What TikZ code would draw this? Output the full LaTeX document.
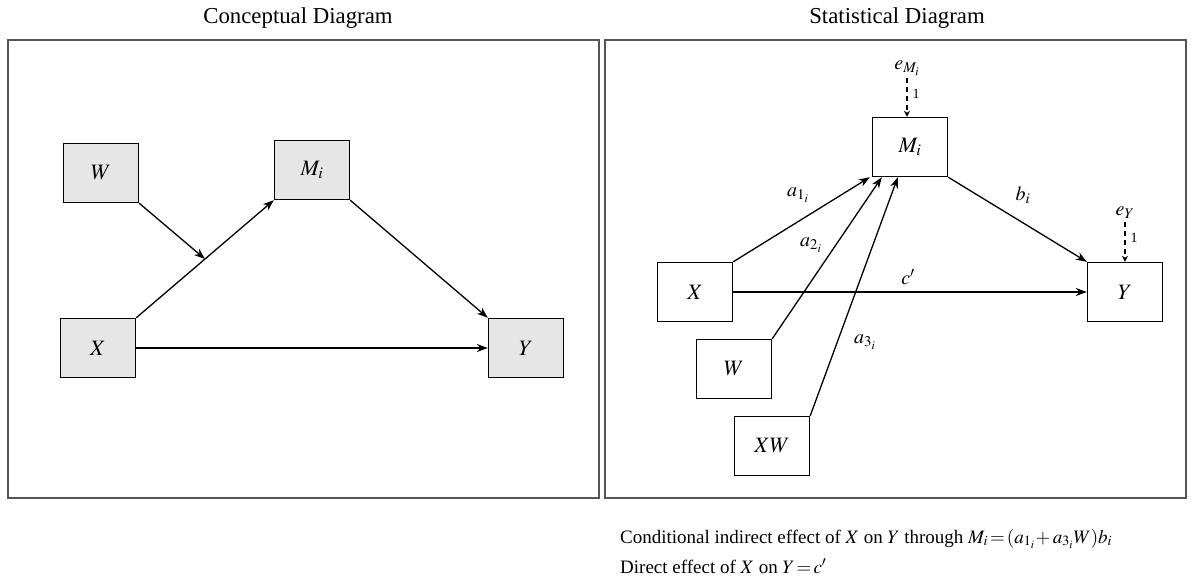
\documentclass[tikz,border=0pt]{standalone}
\usepackage{mathptmx}
\usepackage[no-math]{fontspec}
\setmainfont{Liberation Serif}
\usetikzlibrary{arrows.meta,calc}
\definecolor{boxgray}{HTML}{E6E6E6}
\definecolor{framegray}{HTML}{555555}
\begin{document}
\begin{tikzpicture}[x=1pt,y=-1pt,
  box/.style={draw=black,line width=1.4pt,minimum width=75pt,minimum height=59pt,inner sep=0pt,fill=white,font=\fontsize{22}{24}\selectfont},
  cbox/.style={box,fill=boxgray},
  frame/.style={draw=framegray,line width=1.6pt},
  arr/.style={line width=1.3pt,-{Stealth[length=11pt,width=8pt]}},
  darr/.style={line width=1.4pt,dash pattern=on 5pt off 4pt,-{Stealth[length=6pt,width=6pt]}},
  lab/.style={font=\fontsize{20}{22}\selectfont,inner sep=1pt},
  one/.style={font=\fontsize{14}{15}\selectfont,inner sep=2pt},
  title/.style={font=\fontsize{22.8}{26}\selectfont},
  note/.style={font=\fontsize{19}{22}\selectfont,inner sep=0pt,anchor=base west},
]
\useasboundingbox (0,0) rectangle (1201,580);
\fill[white] (0,0) rectangle (1201,580);

% ---------- Conceptual ----------
\node[title] (t1) at (298,18) {Conceptual Diagram};
\draw[frame] (8,40) rectangle (599,498);
\node[cbox] (cW) at (101,173) {$W$};
\node[cbox] (cM) at (312,170) {$M_i$};
\node[cbox] (cX) at (98,348) {$X$};
\node[cbox] (cY) at (526,348) {$Y$};
\draw[arr] (cX.north east) -- (cM.south west);
\coordinate (cmid) at ($(cX.north east)!0.5!(cM.south west)$);
\draw[arr] (cW.south east) -- (cmid);
\draw[arr] (cX) -- (cY);
\draw[arr] (cM.south east) -- (cY.north west);

% ---------- Statistical ----------
\node[title] (t2) at (897,18) {Statistical Diagram};
\draw[frame] (605,40) rectangle (1186,498);
\node[box] (M) at (910,147) {$M_i$};
\node[box] (X) at (695,292) {$X$};
\node[box] (Y) at (1125,292) {$Y$};
\node[box] (W) at (734,369) {$W$};
\node[box] (XW) at (772,446) {$XW$};
\node[lab] (eM) at (907,68) {$e_{M_i}$};
\node[lab] (eY) at (1125,213) {$e_Y$};

\coordinate (mX) at ($(M.south west)+(-2,0)$);
\coordinate (mW) at ($(M.south west)+(10,0)$);
\coordinate (mXW) at ($(M.south west)+(26,0)$);

\draw[arr] (X.north east) -- (mX);
\draw[arr] (W.north east) -- (mW);
\draw[arr] (XW.north east) -- (mXW);
\draw[arr] (M.south east) -- (Y.north west);
\draw[arr] (X) -- (Y);
\draw[darr] ($(eM.south)+(0,2)$) -- (eM.south |- M.north) node[one,right,pos=0.4,xshift=3pt] {1};
\draw[darr] ($(eY.south)+(0,2)$) -- (eY.south |- Y.north) node[one,right,pos=0.4,xshift=3pt] {1};

\node[lab] (la1) at (798,195) {$a_{1_i}$};
\node[lab] (la2) at (811,245) {$a_{2_i}$};
\node[lab] (la3) at (865,342) {$a_{3_i}$};
\node[lab] (lb) at (1023,195) {$b_i$};
\node[lab] (lc) at (908,277) {$c'$};

\node[note] (n1) at (620,543) {Conditional indirect effect of $X$ on $Y$ through $M_i\!=\!(a_{1_i}\!+a_{3_i}W)b_i$};
\node[note] (n2) at (620,573) {Direct effect of $X$ on $Y\!=\!c'$};
\end{tikzpicture}
\end{document}
